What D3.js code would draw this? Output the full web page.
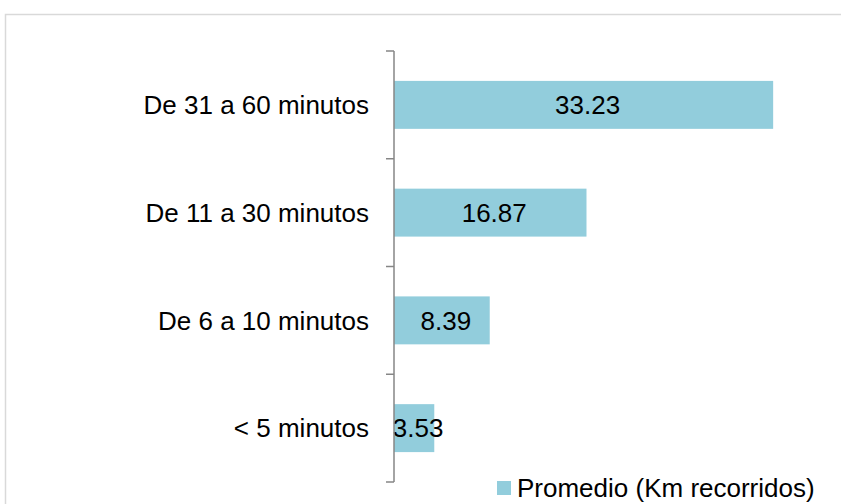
<!DOCTYPE html>
<html>
<head>
<meta charset="utf-8">
<script src="https://cdn.jsdelivr.net/npm/d3@7"></script>
<style>
  body { margin: 0; background: #fff; }
  text { font-family: Arial, "Liberation Sans", sans-serif; fill: #000; }
</style>
</head>
<body>
<div id="chart"></div>
<script>
var categories = ["De 31 a 60 minutos", "De 11 a 30 minutos", "De 6 a 10 minutos", "< 5 minutos"];
var values = [33.23, 16.87, 8.39, 3.53];
var seriesName = "Promedio (Km recorridos)";

var width = 841, height = 504;
var barColor = "#92cddc";

var svg = d3.select("#chart").append("svg")
    .attr("width", width)
    .attr("height", height);

// outer chart border (cut off at right / bottom)
svg.append("rect")
    .attr("x", 5.5).attr("y", 14.5)
    .attr("width", 900).attr("height", 600)
    .attr("fill", "none")
    .attr("stroke", "#d9d9d9")
    .attr("stroke-width", 1.5);

var x = d3.scaleLinear().domain([0, 35]).range([394, 394 + 35 * 11.41]);
var y = d3.scaleBand().domain(categories).range([51, 482]).paddingInner(0.555).paddingOuter(0.2775);

// bars
svg.append("g").selectAll("rect")
    .data(values)
    .enter().append("rect")
    .attr("x", x(0))
    .attr("y", function (d, i) { return y(categories[i]); })
    .attr("width", function (d) { return x(d) - x(0); })
    .attr("height", y.bandwidth())
    .attr("fill", barColor);

// value labels
svg.append("g").selectAll("text")
    .data(values)
    .enter().append("text")
    .attr("x", function (d) { return (x(0) + x(d)) / 2 + 4; })
    .attr("y", function (d, i) { return y(categories[i]) + y.bandwidth() / 2; })
    .attr("dy", "0.36em")
    .attr("text-anchor", "middle")
    .style("font-size", "26px")
    .text(function (d) { return d.toFixed(2); });

// category axis
var yAxis = d3.scaleLinear().domain([0, categories.length]).range([51, 482]);
var axis = svg.append("g");
axis.append("line")
    .attr("x1", 394).attr("x2", 394)
    .attr("y1", 51).attr("y2", 482)
    .attr("stroke", "#868686").attr("stroke-width", 1.5);
axis.selectAll("line.tick")
    .data(d3.range(categories.length + 1))
    .enter().append("line")
    .attr("class", "tick")
    .attr("x1", 386).attr("x2", 394)
    .attr("y1", function (d) { return yAxis(d); })
    .attr("y2", function (d) { return yAxis(d); })
    .attr("stroke", "#868686").attr("stroke-width", 1.5);

axis.selectAll("text")
    .data(categories)
    .enter().append("text")
    .attr("x", 369)
    .attr("y", function (d) { return y(d) + y.bandwidth() / 2; })
    .attr("dy", "0.36em")
    .attr("text-anchor", "end")
    .style("font-size", "26px")
    .text(function (d) { return d; });

// legend
var legend = svg.append("g");
legend.append("rect")
    .attr("x", 497).attr("y", 481)
    .attr("width", 14).attr("height", 14)
    .attr("fill", barColor);
legend.append("text")
    .attr("x", 517).attr("y", 497)
    .style("font-size", "26px")
    .text(seriesName);
</script>
</body>
</html>
